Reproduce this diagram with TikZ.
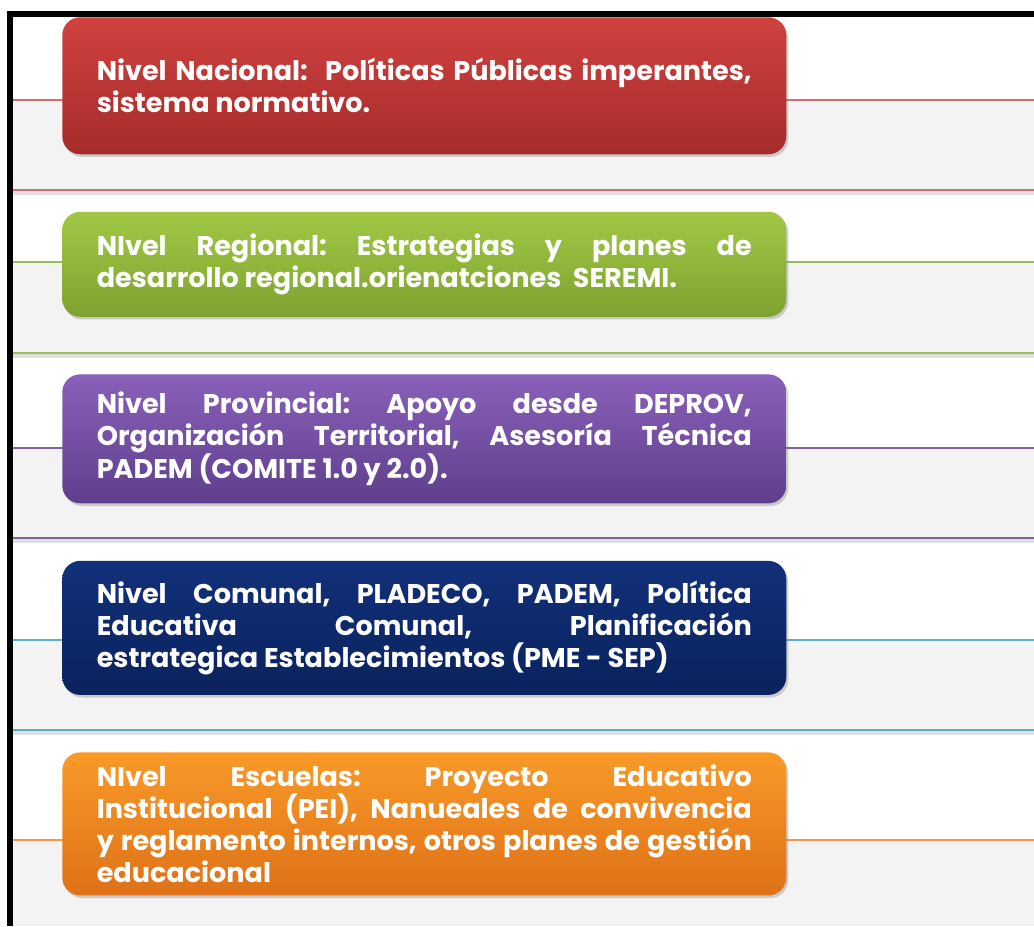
\documentclass[tikz,border=0pt]{standalone}
\usepackage{fontspec}
\setmainfont{Poppins}
\usetikzlibrary{positioning,shadows}
\hyphenpenalty=10000
\exhyphenpenalty=10000
\frenchspacing

\definecolor{rojoA}{HTML}{D0413F}
\definecolor{rojoB}{HTML}{A52C2B}
\definecolor{verdeA}{HTML}{A2C846}
\definecolor{verdeB}{HTML}{7EA22F}
\definecolor{moradoA}{HTML}{8A60BA}
\definecolor{moradoB}{HTML}{5E3F8C}
\definecolor{azulA}{HTML}{12307A}
\definecolor{azulB}{HTML}{0A235E}
\definecolor{naranjaA}{HTML}{F99A28}
\definecolor{naranjaB}{HTML}{DE7118}
\definecolor{lineaRoja}{HTML}{D0706E}
\definecolor{lineaVerde}{HTML}{9BBB59}
\definecolor{lineaMorada}{HTML}{8064A2}
\definecolor{lineaAzul}{HTML}{5AAFC9}
\definecolor{lineaNaranja}{HTML}{F79646}
\definecolor{fondo}{HTML}{F3F3F3}

\tikzset{
  nivel/.style = {rounded corners=13.5pt, minimum width=543pt, text width=491.25pt,
    align=justify, text=white, font=\bfseries\fontsize{20.3}{24}\selectfont,
    drop shadow={shadow xshift=1.5pt, shadow yshift=-2pt, opacity=.35}},
  banda/.style = {line width=2pt},
  sombra/.style = {line width=3pt, black, opacity=.12}
}

\begin{document}
\begin{tikzpicture}[x=0.75pt, y=-0.75pt, node distance=42.75pt]
\useasboundingbox (0,0) rectangle (1034,926);
\fill[white] (0,0) rectangle (1034,926);
% fondos
\fill[fondo] (10,100) rectangle (1034,190);
\fill[fondo] (10,262) rectangle (1034,353);
\fill[fondo] (10,448) rectangle (1034,538);
\fill[fondo] (10,640) rectangle (1034,730);
\fill[fondo] (10,840) rectangle (1034,926);
% sombras de las lineas
\foreach \y in {193,356,541,733} \draw[sombra] (13,\y) -- (1034,\y);
% lineas
\draw[banda, lineaRoja] (13,100) -- (1034,100);
\draw[banda, lineaRoja] (13,190) -- (1034,190);
\draw[banda, lineaVerde] (13,262) -- (1034,262);
\draw[banda, lineaVerde] (13,353) -- (1034,353);
\draw[banda, lineaMorada] (13,448) -- (1034,448);
\draw[banda, lineaMorada] (13,538) -- (1034,538);
\draw[banda, lineaAzul] (13,640) -- (1034,640);
\draw[banda, lineaAzul] (13,730) -- (1034,730);
\draw[banda, lineaNaranja] (13,840) -- (1034,840);
% borde
\draw[line width=4pt] (10,926) -- (10,14) -- (1034,14);

\node[nivel, anchor=north west, minimum height=102.75pt, top color=rojoA, bottom color=rojoB] (nacional) at (62,17)
  {Nivel Nacional:\ \ Políticas Públicas imperantes,\linebreak sistema normativo.};
\node[nivel, below=of nacional, minimum height=78.75pt, top color=verdeA, bottom color=verdeB] (regional)
  {NIvel Regional: Estrategias y planes de\linebreak desarrollo regional.orienatciones\ \ SEREMI.};
\node[nivel, below=of regional, minimum height=96.75pt, top color=moradoA, bottom color=moradoB] (provincial)
  {Nivel Provincial: Apoyo desde DEPROV,\linebreak Organización Territorial, Asesoría Técnica\linebreak PADEM (COMITE 1.0 y 2.0).};
\node[nivel, below=of provincial, minimum height=100.5pt, top color=azulA, bottom color=azulB] (comunal)
  {Nivel Comunal, PLADECO, PADEM, Política\linebreak Educativa Comunal, Planificación\linebreak estrategica Establecimientos (PME - SEP)};
\node[nivel, below=of comunal, minimum height=107.25pt, top color=naranjaA, bottom color=naranjaB] (escuelas)
  {NIvel Escuelas: Proyecto Educativo\linebreak Institucional (PEI), Nanueales de convivencia\linebreak y reglamento internos, otros planes de gestión\linebreak educacional};
\end{tikzpicture}
\end{document}
